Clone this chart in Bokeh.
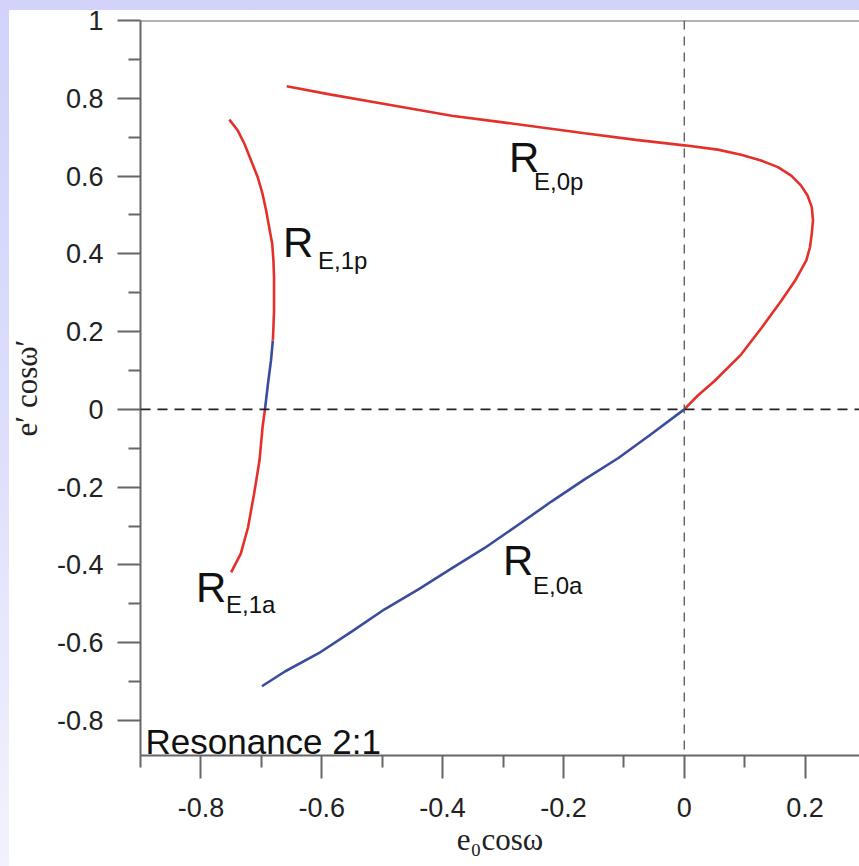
from bokeh.plotting import figure
from bokeh.models import FixedTicker, Span, ColumnDataSource
from bokeh.core.properties import value
from bokeh.embed import file_html
from bokeh.resources import INLINE

# ---- data ----
re0p_x = [-0.658, -0.587, -0.484, -0.385, -0.30, -0.165, -0.08, 0.0, 0.0555, 0.094,
          0.127, 0.155, 0.177, 0.193, 0.204, 0.211, 0.213, 0.211, 0.208, 0.202,
          0.183, 0.160, 0.128, 0.094, 0.05, 0.022, 0.0]
re0p_y = [0.831, 0.81, 0.782, 0.755, 0.738, 0.71, 0.693, 0.679, 0.668, 0.655,
          0.640, 0.623, 0.601, 0.576, 0.550, 0.520, 0.486, 0.452, 0.417, 0.383,
          0.33, 0.278, 0.21, 0.141, 0.073, 0.035, 0.0]

re0a_x = [0.0, -0.055, -0.109, -0.165, -0.22, -0.274, -0.331, -0.385, -0.44,
          -0.496, -0.55, -0.605, -0.661, -0.699]
re0a_y = [0.0, -0.064, -0.125, -0.18, -0.237, -0.296, -0.357, -0.409, -0.463,
          -0.514, -0.571, -0.627, -0.674, -0.712]

re1p_x = [-0.753, -0.739, -0.728, -0.717, -0.706, -0.698, -0.692, -0.687, -0.682,
          -0.680, -0.679, -0.679, -0.679, -0.680, -0.681]
re1p_y = [0.745, 0.717, 0.683, 0.640, 0.597, 0.554, 0.511, 0.468, 0.426,
          0.383, 0.340, 0.297, 0.254, 0.211, 0.177]

re1s_x = [-0.681, -0.684, -0.689, -0.694]
re1s_y = [0.177, 0.126, 0.066, 0.0]

re1a_x = [-0.694, -0.698, -0.703, -0.712, -0.722, -0.734, -0.750]
re1a_y = [0.0, -0.046, -0.131, -0.217, -0.303, -0.371, -0.419]

x_major = [-0.8, -0.6, -0.4, -0.2, 0.0, 0.2]
x_labels = ["-0.8", "-0.6", "-0.4", "-0.2", "0", "0.2"]
x_minor = [-0.9, -0.7, -0.5, -0.3, -0.1, 0.1]
y_major = [-0.8, -0.6, -0.4, -0.2, 0.0, 0.2, 0.4, 0.6, 0.8, 1.0]
y_labels = ["-0.8", "-0.6", "-0.4", "-0.2", "0", "0.2", "0.4", "0.6", "0.8", "1"]
y_minor = [-0.9, -0.7, -0.5, -0.3, -0.1, 0.1, 0.3, 0.5, 0.7, 0.9]

lbl_main = ["R", "R", "R", "R"]
lbl_sub = ["E,0p", "E,1p", "E,1a", "E,0a"]
lbl_x = [-0.290, -0.664, -0.808, -0.300]
lbl_y = [0.648, 0.429, -0.458, -0.389]
lbl_dx = [25, 35, 30, 30]
lbl_dy = [24, 18, 17, 25]

note_text = ["Resonance 2:1"]
note_x = [-0.9]
note_y = [-0.853]

RED = "#E5302A"
BLUE = "#3A4C9C"
AXC = "#666666"

p = figure(width=859, height=866, x_range=(-0.9, 0.290), y_range=(-0.89, 1.0),
           output_backend="svg", toolbar_location=None,
           min_border_left=140, min_border_right=0, min_border_top=20,
           min_border_bottom=111)
p.outline_line_color = None
p.grid.visible = False
p.background_fill_color = "white"
p.border_fill_color = None
p.styles = {
    "background": "linear-gradient(#ffffff, #ffffff) 9px 10px / calc(100% - 9px) "
                  "calc(100% - 10px) no-repeat, "
                  "linear-gradient(to bottom, #D2D2FB, #DCDCFC 45%, #F2F2FE)"
}

# reference lines
p.add_layout(Span(location=0, dimension="width", line_color="#222222",
                  line_width=1.8, line_dash="10 7"))
p.add_layout(Span(location=0, dimension="height", line_color="#555555",
                  line_width=1.3, line_dash="9 7"))
p.add_layout(Span(location=1.0, dimension="width", line_color=AXC, line_width=2))

# curves
p.line(re0p_x, re0p_y, line_color=RED, line_width=2.6)
p.line(re0a_x, re0a_y, line_color=BLUE, line_width=2.6)
p.line(re1p_x, re1p_y, line_color=RED, line_width=2.6)
p.line(re1s_x, re1s_y, line_color=BLUE, line_width=2.6)
p.line(re1a_x, re1a_y, line_color=RED, line_width=2.6)

# curve labels
src = ColumnDataSource(dict(x=lbl_x, y=lbl_y, t=lbl_main, s=lbl_sub,
                            dx=lbl_dx, dy=lbl_dy))
p.text(x="x", y="y", text="t", source=src, text_font=value("Liberation Sans"),
       text_font_size="42px", text_color="#111111", text_baseline="middle",
       text_align="left")
p.text(x="x", y="y", text="s", source=src, x_offset="dx", y_offset="dy",
       text_font=value("Liberation Sans"), text_font_size="24px",
       text_color="#111111", text_baseline="middle", text_align="left")

p.text(x=note_x, y=note_y, text=note_text, x_offset=5,
       text_font=value("Liberation Sans"), text_font_size="35px",
       text_color="#111111", text_baseline="middle", text_align="left")

# axes
for ax in (p.xaxis[0], p.yaxis[0]):
    ax.axis_line_color = AXC
    ax.axis_line_width = 2
    ax.major_tick_line_color = AXC
    ax.major_tick_line_width = 2
    ax.minor_tick_line_color = AXC
    ax.minor_tick_line_width = 2
    ax.major_tick_in = 0
    ax.major_tick_out = 23
    ax.minor_tick_in = 0
    ax.minor_tick_out = 12
    ax.major_label_text_font = "Liberation Sans"
    ax.major_label_text_font_size = "27px"
    ax.major_label_text_color = "#222222"
    ax.axis_label_text_font = "Liberation Serif"
    ax.axis_label_text_font_size = "31px"
    ax.axis_label_text_font_style = "normal"
    ax.axis_label_text_color = "#222222"

p.xaxis[0].ticker = FixedTicker(ticks=x_major, minor_ticks=x_minor)
p.yaxis[0].ticker = FixedTicker(ticks=y_major, minor_ticks=y_minor)
p.xaxis[0].major_label_overrides = dict(zip(x_major, x_labels))
p.yaxis[0].major_label_overrides = dict(zip(y_major, y_labels))
p.xaxis[0].major_label_standoff = 19
p.yaxis[0].major_label_standoff = 14
p.xaxis[0].axis_label = "e\u2080cos\u03c9"
p.yaxis[0].axis_label = "e\u2032 cos\u03c9\u2032"
p.xaxis[0].axis_label_standoff = 2
p.yaxis[0].axis_label_standoff = 10

open("out.html", "w").write(file_html(p, INLINE))
